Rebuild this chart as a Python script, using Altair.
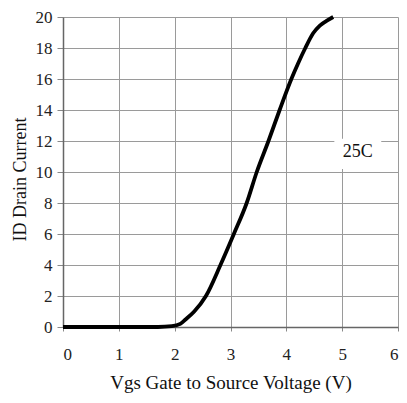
import altair as alt
import pandas as pd

vgs = [0.0, 1.0, 1.7, 1.95, 2.1, 2.2, 2.35, 2.56, 2.82, 3.06, 3.29, 3.47, 3.68, 3.88, 4.09, 4.21, 4.34, 4.48, 4.60, 4.72, 4.84]
id_current = [0.0, 0.0, 0.0, 0.05, 0.2, 0.5, 1.0, 2.0, 4.0, 6.0, 8.0, 10.0, 12.0, 14.0, 16.0, 17.0, 18.0, 18.95, 19.45, 19.75, 20.0]

label_text = ["25C"]
label_x = [5.28]
label_y = [11.3]
box_x = [4.86]
box_x2 = [5.70]
box_y = [10.2]
box_y2 = [12.15]

curve = pd.DataFrame({"vgs": vgs, "id": id_current})
lab = pd.DataFrame({"t": label_text, "x": label_x, "y": label_y,
                    "bx": box_x, "bx2": box_x2, "by": box_y, "by2": box_y2})

FONT = "Liberation Serif"

xscale = alt.Scale(domain=[0, 6], nice=False)
yscale = alt.Scale(domain=[0, 20], nice=False)

xaxis = alt.Axis(title="Vgs Gate to Source Voltage (V)", values=[0, 1, 2, 3, 4, 5, 6],
                 format="d", tickSize=4, labelPadding=15, titlePadding=11,
                 labelFont=FONT, titleFont=FONT,
                 labelFontSize=17, titleFontSize=19)
yaxis = alt.Axis(title="ID Drain Current", values=list(range(0, 21, 2)),
                 format="d", tickSize=6, labelPadding=5,
                 labelFont=FONT, titleFont=FONT,
                 titleX=-43, titleY=162, titleBaseline="middle", titleAngle=270,
                 labelFontSize=17, titleFontSize=18, labelOverlap=False)

line = alt.Chart(curve).mark_line(color="black", strokeWidth=3.8, interpolate="monotone").encode(
    x=alt.X("vgs:Q", scale=xscale, axis=xaxis),
    y=alt.Y("id:Q", scale=yscale, axis=yaxis),
)

box = alt.Chart(lab).mark_rect(color="white").encode(
    x=alt.X("bx:Q", scale=xscale, axis=xaxis), x2="bx2:Q",
    y=alt.Y("by:Q", scale=yscale, axis=yaxis), y2="by2:Q",
)

txt = alt.Chart(lab).mark_text(font=FONT, fontSize=18, color="#111").encode(
    x=alt.X("x:Q", scale=xscale, axis=xaxis),
    y=alt.Y("y:Q", scale=yscale, axis=yaxis),
    text="t:N",
)

chart = alt.layer(line, box, txt).properties(
    width=335, height=310,
    background="white",
    autosize=alt.AutoSizeParams(type="none"),
    padding={"left": 55, "top": 9, "right": 1, "bottom": 68},
).configure_view(stroke=None).configure_axis(
    labelFont=FONT, titleFont=FONT, labelColor="#222", titleColor="#111",
    titleFontWeight="normal", gridColor="#9a9a9a", gridWidth=1,
    domainColor="#666", domainWidth=1.5, tickColor="#888",
)

chart.save("out.html", embed_options={"renderer": "svg", "actions": False})
